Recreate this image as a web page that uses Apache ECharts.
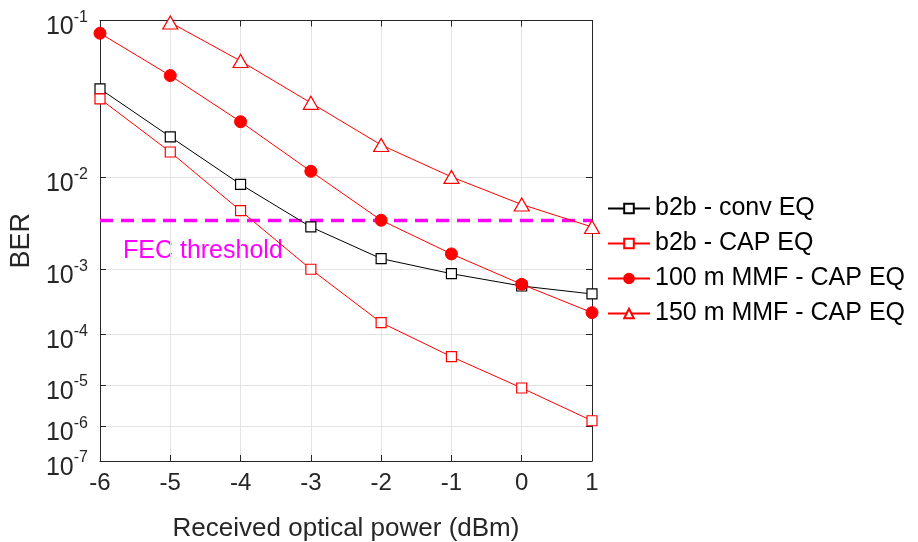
<!DOCTYPE html>
<html>
<head>
<meta charset="utf-8">
<script src="https://cdn.jsdelivr.net/npm/echarts@6/dist/echarts.min.js"></script>
<style>
  html, body { margin: 0; padding: 0; background: #fff; }
  #chart { width: 918px; height: 542px; }
</style>
</head>
<body>
<div id="chart"></div>
<script>
// received optical power (dBm)
var power = [-6, -5, -4, -3, -2, -1, 0, 1];

// BER
var b2bConv = [0.0444, 0.0213, 0.00867, 0.00324, 0.00137, 0.00087, 0.000587, 0.00045];
var b2bCap = [0.0386, 0.0163, 0.00482, 0.000998, 0.000159, 0.0000385, 0.0000085, 0.00000138];
var mmf100 = [0.0875, 0.053, 0.0273, 0.0113, 0.00383, 0.00157, 0.00062, 0.000232];
var mmf150 = [null, 0.098, 0.0637, 0.0364, 0.0185, 0.0101, 0.00557, 0.00324];

var fecLimit = 0.0038;
var decades = [1, 2, 3, 4, 5, 6, 7]; // 10^-n tick labels

// BER axis: -log10(-log10(BER))
function tf(v) {
    return v == null ? null : -Math.log10(-Math.log10(v));
}
function pairs(arr) {
    return power.map(function (x, i) {
        return [x, tf(arr[i])];
    });
}

var yTicks = decades.map(function (n) { return tf(Math.pow(10, -n)); });
var yMin = tf(1e-7), yMax = tf(1e-1);

var font = 'Liberation Sans, Arial, sans-serif';
var axisColor = '#262626';
var gridColor = '#e3e3e3';

var chart = echarts.init(document.getElementById('chart'));

var option = {
    animation: false,
    backgroundColor: '#fff',
    grid: {
        left: 100,
        right: 326,
        top: 20.5,
        bottom: 81,
        outerBoundsMode: 'none'
    },
    legend: {
        orient: 'vertical',
        left: 607,
        top: 196,
        padding: 0,
        itemWidth: 42,
        itemHeight: 12,
        itemGap: 10,
        textStyle: { fontFamily: font, fontSize: 25, color: '#000' },
        data: ['b2b - conv EQ', 'b2b - CAP EQ', '100 m MMF - CAP EQ', '150 m MMF - CAP EQ']
    },
    xAxis: [{
        type: 'value',
        min: -6,
        max: 1,
        interval: 1,
        name: 'Received optical power (dBm)',
        nameLocation: 'middle',
        nameGap: 55,
        nameTextStyle: { fontFamily: font, fontSize: 26, color: axisColor },
        axisLine: { onZero: false, lineStyle: { color: axisColor, width: 1 } },
        axisTick: { inside: true, length: 6, lineStyle: { color: axisColor } },
        axisLabel: { fontFamily: font, fontSize: 24, color: axisColor, margin: 10 },
        splitLine: { show: true, lineStyle: { color: gridColor, width: 1 } }
    }, {
        type: 'value',
        position: 'top',
        min: -6,
        max: 1,
        interval: 1,
        axisLine: { onZero: false, lineStyle: { color: axisColor, width: 1 } },
        axisTick: { inside: true, length: 6, lineStyle: { color: axisColor } },
        axisLabel: { show: false },
        splitLine: { show: false }
    }],
    yAxis: [{
        type: 'value',
        min: yMin,
        max: yMax,
        name: 'BER',
        nameLocation: 'middle',
        nameGap: 64,
        nameTextStyle: { fontFamily: font, fontSize: 27, color: axisColor },
        axisLine: { show: true, onZero: false, lineStyle: { color: axisColor, width: 1 } },
        axisTick: { inside: true, length: 6, customValues: yTicks, lineStyle: { color: axisColor } },
        axisLabel: {
            customValues: yTicks,
            margin: 12,
            formatter: function (v) {
                var n = Math.round(Math.pow(10, -v));
                return '{b|10}{s|-' + n + '}';
            },
            rich: {
                b: { fontFamily: font, fontSize: 25, color: axisColor, padding: [14, 0, 0, 0] },
                s: { fontFamily: font, fontSize: 16, color: axisColor, padding: [0, 0, 6, 0] }
            }
        },
        splitLine: { show: true, lineStyle: { color: gridColor, width: 1 } }
    }, {
        type: 'value',
        position: 'right',
        min: yMin,
        max: yMax,
        axisLine: { show: true, onZero: false, lineStyle: { color: axisColor, width: 1 } },
        axisTick: { inside: true, length: 6, customValues: yTicks, lineStyle: { color: axisColor } },
        axisLabel: { show: false, customValues: yTicks },
        splitLine: { show: false }
    }],
    series: [
        {
            name: 'FEC threshold',
            type: 'line',
            data: [[-6, tf(fecLimit)], [1, tf(fecLimit)]],
            symbol: 'none',
            lineStyle: { color: '#ff00ff', width: 3.5, type: [13, 8] },
            z: 1,
            silent: true
        },
        {
            name: 'b2b - conv EQ',
            type: 'line',
            data: pairs(b2bConv),
            symbol: 'rect',
            symbolSize: 10,
            itemStyle: { color: '#fff', borderColor: '#000', borderWidth: 1.2 },
            lineStyle: { color: '#000', width: 1 },
            z: 3
        },
        {
            name: 'b2b - CAP EQ',
            type: 'line',
            data: pairs(b2bCap),
            symbol: 'rect',
            symbolSize: 10,
            itemStyle: { color: '#fff', borderColor: '#ff0000', borderWidth: 1.2 },
            lineStyle: { color: '#ff0000', width: 1 },
            z: 3
        },
        {
            name: '100 m MMF - CAP EQ',
            type: 'line',
            data: pairs(mmf100),
            symbol: 'circle',
            symbolSize: 12,
            itemStyle: { color: '#ff0000', borderColor: '#ff0000', borderWidth: 1 },
            lineStyle: { color: '#ff0000', width: 1 },
            z: 3
        },
        {
            name: '150 m MMF - CAP EQ',
            type: 'line',
            data: pairs(mmf150),
            symbol: 'triangle',
            symbolSize: [15, 13],
            itemStyle: { color: '#fff', borderColor: '#ff0000', borderWidth: 1.2 },
            lineStyle: { color: '#ff0000', width: 1 },
            z: 3
        }
    ],
    graphic: [{
        type: 'text',
        x: 123,
        y: 251,
        style: {
            text: 'FEC threshold',
            fontFamily: font,
            fontSize: 25,
            fill: '#ff00ff',
            verticalAlign: 'middle'
        }
    }]
};

chart.setOption(option);
</script>
</body>
</html>
